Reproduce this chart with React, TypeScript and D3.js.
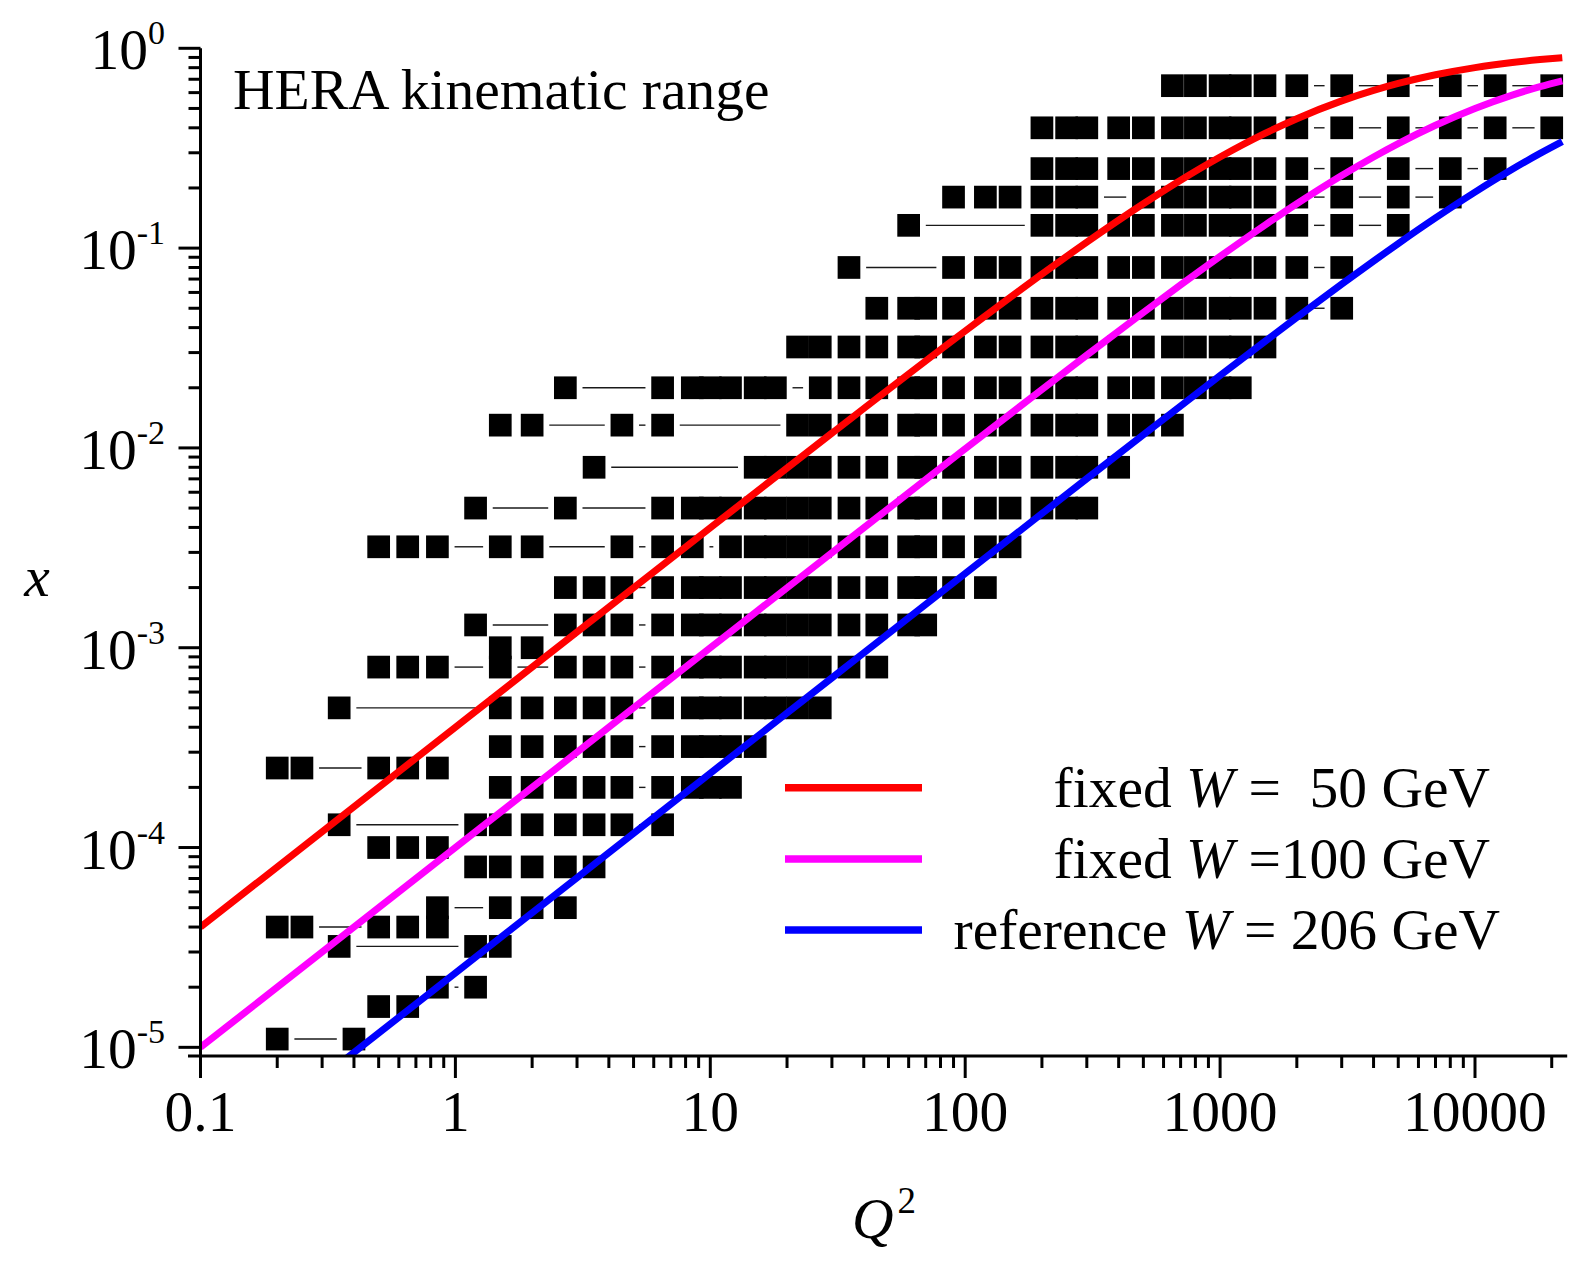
import React from 'react';
import * as d3 from 'd3';

const WIDTH = 1576;
const HEIGHT = 1269;

// Bjorken-x value of each row of data points
const rowX = [
  0.65, 0.4, 0.25, 0.18, 0.13, 0.08, 0.05, 0.032, 0.02, 0.013, 0.008, 0.005, 0.0032, 0.002, 0.0013,
  0.001, 0.0008, 0.0005, 0.00032, 0.00025, 0.0002, 0.00013, 0.0001, 8e-5, 5e-5, 4e-5, 3.2e-5, 2e-5,
  1.6e-5, 1.1e-5,
];

// Q^2 values of the measured points in each row
const rowQ2 = [
  [650, 800, 1000, 1200, 1500, 2000, 3000, 5000, 8000, 12000, 20000],
  [200, 250, 300, 400, 500, 650, 800, 1000, 1200, 1500, 2000, 3000, 5000, 8000, 12000, 20000],
  [200, 250, 300, 400, 500, 650, 800, 1000, 1200, 1500, 2000, 3000, 5000, 8000, 12000],
  [90, 120, 150, 200, 250, 300, 500, 650, 800, 1000, 1200, 1500, 2000, 3000, 5000, 8000],
  [60, 200, 250, 300, 400, 500, 650, 800, 1000, 1200, 1500, 2000, 3000, 5000],
  [35, 90, 120, 150, 200, 250, 300, 400, 500, 650, 800, 1000, 1200, 1500, 2000, 3000],
  [45, 60, 70, 90, 120, 150, 200, 250, 300, 400, 500, 650, 800, 1000, 1200, 1500, 2000, 3000],
  [22, 27, 35, 45, 60, 70, 90, 120, 150, 200, 250, 300, 400, 500, 650, 800, 1000, 1200, 1500],
  [2.7, 6.5, 8.5, 10, 12, 15, 18, 27, 35, 45, 60, 70, 90, 120, 150, 200, 250, 300, 400, 500, 650, 800, 1000, 1200],
  [1.5, 2, 4.5, 6.5, 22, 27, 35, 45, 60, 70, 90, 120, 150, 200, 250, 300, 400, 500, 650],
  [3.5, 15, 18, 22, 27, 35, 45, 60, 70, 90, 120, 150, 200, 250, 300, 400],
  [1.2, 2.7, 6.5, 8.5, 10, 12, 15, 18, 22, 27, 35, 45, 60, 70, 90, 120, 150, 200, 250, 300],
  [0.5, 0.65, 0.85, 1.5, 2, 4.5, 6.5, 8.5, 12, 15, 18, 22, 27, 35, 45, 60, 70, 90, 120, 150],
  [2.7, 3.5, 4.5, 6.5, 8.5, 10, 12, 15, 18, 22, 27, 35, 45, 60, 70, 90, 120],
  [1.2, 2.7, 3.5, 4.5, 6.5, 8.5, 10, 12, 15, 18, 22, 27, 35, 45, 60, 70],
  [1.5, 2],
  [0.5, 0.65, 0.85, 1.5, 2.7, 3.5, 4.5, 6.5, 8.5, 10, 12, 15, 18, 22, 27, 35, 45],
  [0.35, 1.5, 2, 2.7, 3.5, 4.5, 6.5, 8.5, 10, 12, 15, 18, 22, 27],
  [1.5, 2, 2.7, 3.5, 4.5, 6.5, 8.5, 10, 12, 15],
  [0.2, 0.25, 0.5, 0.65, 0.85],
  [1.5, 2, 2.7, 3.5, 4.5, 6.5, 8.5, 10, 12],
  [0.35, 1.2, 1.5, 2, 2.7, 3.5, 4.5, 6.5],
  [0.5, 0.65, 0.85],
  [1.2, 1.5, 2, 2.7, 3.5],
  [0.85, 1.5, 2, 2.7],
  [0.2, 0.25, 0.5, 0.65, 0.85],
  [0.35, 1.2, 1.5],
  [0.85, 1.2],
  [0.5, 0.65],
  [0.2, 0.4],
];

// curves of fixed W
const curveQ2 = [0.1, 0.3, 1, 3, 10, 30, 100, 200, 300, 500, 700, 1000, 1500, 2000, 3000, 4000, 5000, 7000, 10000, 14000, 18000, 22000];
const xW50 = [4.0e-5, 1.2e-4, 4.0e-4, 1.199e-3, 3.984e-3, 0.011858, 0.03846, 0.07407, 0.10714, 0.16667, 0.21875, 0.28571, 0.375, 0.44444, 0.54545, 0.61538, 0.66667, 0.73684, 0.8, 0.84848, 0.87805, 0.89796];
const xW100 = [1.0e-5, 3.0e-5, 1.0e-4, 2.999e-4, 9.99e-4, 2.991e-3, 9.901e-3, 0.019608, 0.029126, 0.047619, 0.065421, 0.090909, 0.130435, 0.166667, 0.230769, 0.285714, 0.333333, 0.411765, 0.5, 0.583333, 0.642857, 0.6875];
const xW206 = [2.357e-6, 7.07e-6, 2.3565e-5, 7.069e-5, 2.3559e-4, 7.0645e-4, 2.351e-3, 4.6906e-3, 7.0195e-3, 0.011645, 0.016228, 0.023022, 0.034142, 0.045008, 0.066026, 0.086147, 0.10541, 0.1416, 0.19071, 0.24807, 0.29784, 0.34142];

const legendLabels = [
  { pre: 'fixed ', post: ' =  50 GeV', color: '#ff0000' },
  { pre: 'fixed ', post: ' =100 GeV', color: '#ff00ff' },
  { pre: 'reference ', post: ' = 206 GeV', color: '#0000ff' },
];

const xTickValues = [0.1, 1, 10, 100, 1000, 10000];
const xTickLabels = ['0.1', '1', '10', '100', '1000', '10000'];
const yTickExps = [0, -1, -2, -3, -4, -5];

const FONT = "'Liberation Serif', 'Times New Roman', Times, serif";

export default function App() {
  const x = d3.scaleLog().domain([0.1, 23000]).range([200.5, 1567.2]);
  const y = d3.scaleLog().domain([9.05e-6, 1]).range([1056, 48.3]);

  const SQ = 22.7;
  const half = SQ / 2;
  const gap = 5.8;

  const lineGen = d3
    .line<number>()
    .x((_, i) => x(curveQ2[i]))
    .curve(d3.curveMonotoneX);

  const curves = [
    { vals: xW50, color: '#ff0000' },
    { vals: xW100, color: '#ff00ff' },
    { vals: xW206, color: '#0000ff' },
  ];

  // minor ticks
  const xMinor: number[] = [];
  for (let e = -1; e <= 4; e++) {
    for (let m = 2; m <= 9; m++) {
      const v = m * Math.pow(10, e);
      if (v <= 23000) xMinor.push(v);
    }
  }
  const yMinor: number[] = [];
  for (let e = -5; e <= -1; e++) {
    for (let m = 2; m <= 9; m++) yMinor.push(m * Math.pow(10, e));
  }

  const connectors: { x1: number; x2: number; yy: number }[] = [];
  rowQ2.forEach((qs, r) => {
    const yy = y(rowX[r]);
    for (let i = 0; i < qs.length - 1; i++) {
      const a = x(qs[i]) + half + gap;
      const b = x(qs[i + 1]) - half - gap;
      if (b - a > 0.5) connectors.push({ x1: a, x2: b, yy });
    }
  });

  const axisY = 1056;
  const axisX = 200.5;
  const legendY = [787.8, 859, 930];
  const legendEnd = [1490, 1490, 1500];

  return (
    <svg
      width={WIDTH}
      height={HEIGHT}
      style={{ position: 'absolute', left: 0, top: 0, background: '#fff' }}
      fontFamily={FONT}
    >
      <defs>
        <clipPath id="plotClip">
          <rect x={axisX} y={30} width={1567.2 - axisX} height={axisY - 30} />
        </clipPath>
      </defs>
      <rect x={0} y={0} width={WIDTH} height={HEIGHT} fill="#fff" />

      {/* connecting lines */}
      <g stroke="#1a1a1a" strokeWidth={1.4}>
        {connectors.map((c, i) => (
          <line key={i} x1={c.x1} x2={c.x2} y1={c.yy} y2={c.yy} />
        ))}
      </g>

      {/* squares */}
      <g fill="#000">
        {rowQ2.map((qs, r) =>
          qs.map((q, i) => (
            <rect key={r + '-' + i} x={x(q) - half} y={y(rowX[r]) - half} width={SQ} height={SQ} />
          ))
        )}
      </g>

      {/* curves */}
      <g clipPath="url(#plotClip)" fill="none">
        {curves.map((c, i) => (
          <path key={i} d={lineGen.y((_, j) => y(c.vals[j]))(c.vals) || ''} stroke={c.color} strokeWidth={7} />
        ))}
      </g>

      {/* axes */}
      <g stroke="#000" strokeWidth={3} fill="none">
        <line x1={axisX} x2={axisX} y1={48.3} y2={axisY} />
        <line x1={188} x2={1567.2} y1={axisY} y2={axisY} />
        {xTickValues.map((v, i) => (
          <line key={'xt' + i} x1={x(v)} x2={x(v)} y1={axisY} y2={axisY + 22} />
        ))}
        {xMinor.map((v, i) => (
          <line key={'xm' + i} x1={x(v)} x2={x(v)} y1={axisY} y2={axisY + 12} />
        ))}
        {yTickExps.map((e, i) => (
          <line key={'yt' + i} x1={axisX - 22} x2={axisX} y1={y(Math.pow(10, e))} y2={y(Math.pow(10, e))} />
        ))}
        {yMinor.map((v, i) => (
          <line key={'ym' + i} x1={axisX - 12} x2={axisX} y1={y(v)} y2={y(v)} />
        ))}
      </g>

      {/* tick labels */}
      <g fontSize={57.5} fill="#000">
        {xTickValues.map((v, i) => (
          <text key={'xl' + i} x={x(v)} y={1131} textAnchor="middle">
            {xTickLabels[i]}
          </text>
        ))}
        {yTickExps.map((e, i) => (
          <text key={'yl' + i} x={165} y={y(Math.pow(10, e)) + 21} textAnchor="end">
            10
            <tspan fontSize={34} dy={-25}>
              {String(e)}
            </tspan>
          </text>
        ))}
      </g>

      {/* axis titles */}
      <text x={852} y={1238} fontSize={57.5}>
        <tspan fontStyle="italic">Q</tspan>
        <tspan fontSize={37} dy={-25} dx={4}>
          2
        </tspan>
      </text>
      <text x={37} y={596} fontSize={57.5} fontStyle="italic" textAnchor="middle">
        x
      </text>

      {/* title */}
      <text x={233} y={108.5} fontSize={57.5}>
        HERA kinematic range
      </text>

      {/* legend */}
      <g fontSize={57.5}>
        {legendLabels.map((l, i) => {
          const ly = legendY[i];
          return (
            <g key={'lg' + i}>
              <line x1={785} x2={922} y1={ly} y2={ly} stroke={l.color} strokeWidth={7.5} />
              <text x={legendEnd[i]} y={ly + 19} textAnchor="end" style={{ whiteSpace: 'pre' }}>
                {l.pre}
                <tspan fontStyle="italic">W</tspan>
                {l.post}
              </text>
            </g>
          );
        })}
      </g>
    </svg>
  );
}
